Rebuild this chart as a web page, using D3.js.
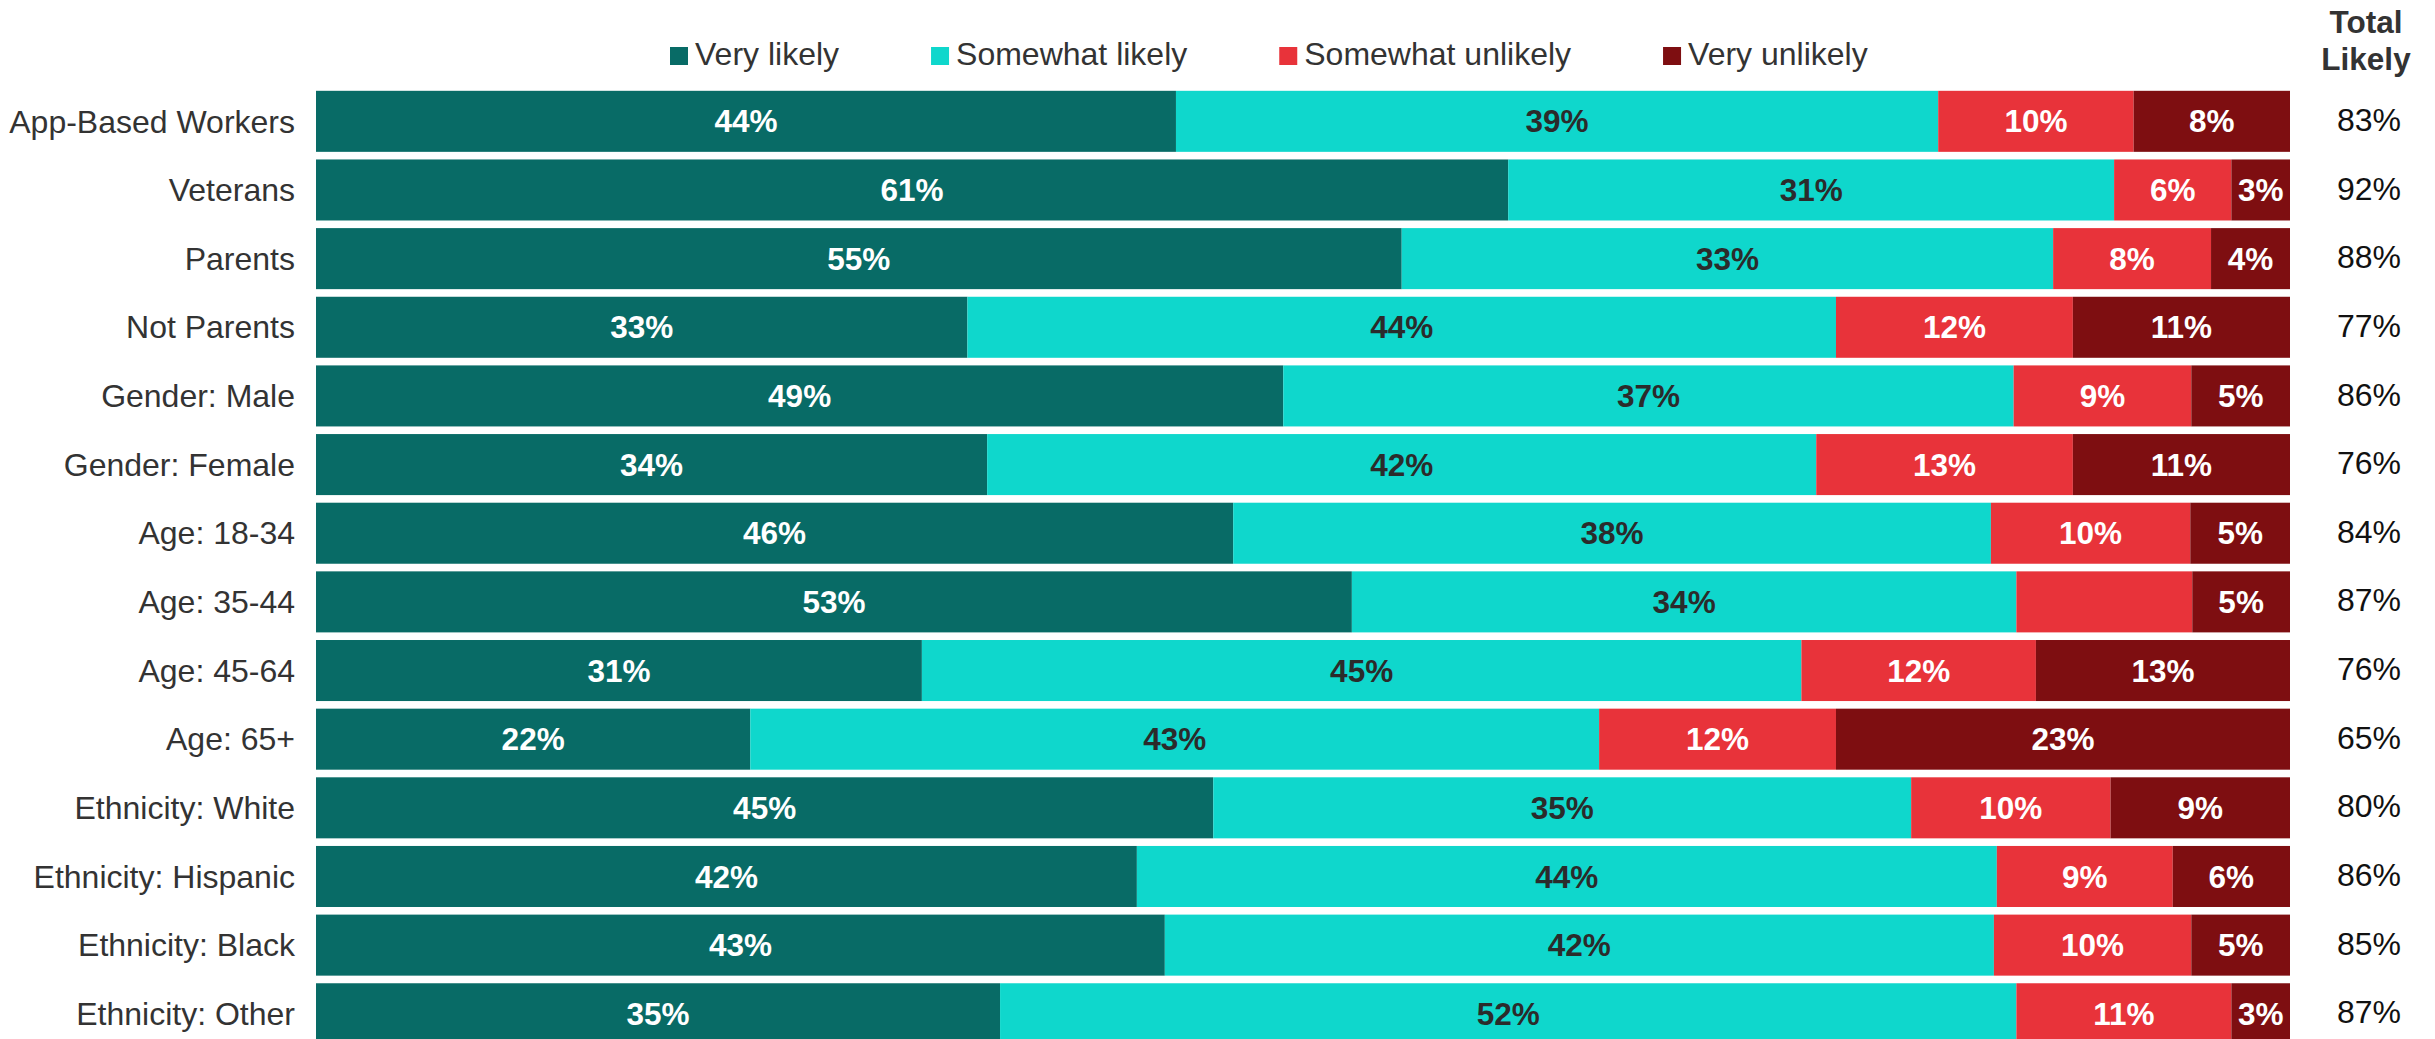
<!DOCTYPE html>
<meta charset="utf-8">
<style>
body { margin: 0; background: #fff; }
svg { display: block; font-family: "Liberation Sans", Arial, sans-serif; }
.cat { font-size: 32px; fill: #333; text-anchor: end; }
.seg-label { font-size: 31.5px; font-weight: bold; text-anchor: middle; }
.total { font-size: 32px; fill: #111; text-anchor: middle; }
.total-head { font-size: 31.5px; font-weight: bold; fill: #333; text-anchor: middle; }
.legend text { font-size: 32px; fill: #333; }
</style>
<svg width="2435" height="1039"></svg>
<script src="https://cdn.jsdelivr.net/npm/d3@7"></script>
<script>

const categories = [
  'App-Based Workers', 'Veterans', 'Parents', 'Not Parents',
  'Gender: Male', 'Gender: Female', 'Age: 18-34', 'Age: 35-44',
  'Age: 45-64', 'Age: 65+', 'Ethnicity: White', 'Ethnicity: Hispanic',
  'Ethnicity: Black', 'Ethnicity: Other'
];

const seriesNames = ['Very likely', 'Somewhat likely', 'Somewhat unlikely', 'Very unlikely'];

const veryLikely       = [44, 61, 55, 33, 49, 34, 46, 53, 31, 22, 45, 42, 43, 35];
const somewhatLikely   = [39, 31, 33, 44, 37, 42, 38, 34, 45, 43, 35, 44, 42, 52];
const somewhatUnlikely = [10,  6,  8, 12,  9, 13, 10,  9, 12, 12, 10,  9, 10, 11];
const veryUnlikely     = [ 8,  3,  4, 11,  5, 11,  5,  5, 13, 23,  9,  6,  5,  3];

const totalLikely = [83, 92, 88, 77, 86, 76, 84, 87, 76, 65, 80, 86, 85, 87];

// the reference leaves this one segment without a label
const hiddenLabels = [['Age: 35-44', 'Somewhat unlikely']];

const colors = ['#086b66', '#0fd7cc', '#e8333a', '#7e0e11'];
const labelColors = ['#fff', '#2b2b2b', '#fff', '#fff'];

const width = 2435;
const height = 1039;

const rows = categories.map((c, i) => ({
  category: c,
  'Very likely': veryLikely[i],
  'Somewhat likely': somewhatLikely[i],
  'Somewhat unlikely': somewhatUnlikely[i],
  'Very unlikely': veryUnlikely[i],
  total: totalLikely[i]
}));

const stacked = d3.stack()
  .keys(seriesNames)
  .offset(d3.stackOffsetExpand)(rows);

const x = d3.scaleLinear().domain([0, 1]).range([316, 2290]);

const step = 68.65;
const y = d3.scaleBand()
  .domain(categories)
  .range([87, 87 + step * categories.length])
  .paddingInner(0.111)
  .paddingOuter(0.0555);

const color = d3.scaleOrdinal().domain(seriesNames).range(colors);
const labelColor = d3.scaleOrdinal().domain(seriesNames).range(labelColors);

const svg = d3.select('svg')
  .attr('width', width)
  .attr('height', height);

// legend
const legend = svg.append('g').attr('class', 'legend');
let lx = 670;
seriesNames.forEach(name => {
  const g = legend.append('g').attr('transform', `translate(${lx},0)`);
  g.append('rect')
    .attr('x', 0).attr('y', 47)
    .attr('width', 18).attr('height', 18)
    .attr('fill', color(name));
  const t = g.append('text')
    .attr('x', 25).attr('y', 65)
    .text(name);
  lx += 25 + t.node().getComputedTextLength() + 92;
});

// total likely header
const totalX = 2366;
svg.append('text').attr('class', 'total-head')
  .attr('x', totalX).attr('y', 33).text('Total');
svg.append('text').attr('class', 'total-head')
  .attr('x', totalX).attr('y', 70).text('Likely');

// bars
const layer = svg.selectAll('.layer')
  .data(stacked)
  .enter().append('g')
    .attr('class', 'layer')
    .attr('fill', d => color(d.key));

layer.selectAll('rect')
  .data(d => d)
  .enter().append('rect')
    .attr('x', d => x(d[0]))
    .attr('y', d => y(d.data.category))
    .attr('width', d => x(d[1]) - x(d[0]))
    .attr('height', y.bandwidth());

const isHidden = (cat, key) => hiddenLabels.some(h => h[0] === cat && h[1] === key);

stacked.forEach(s => {
  svg.append('g').selectAll('text')
    .data(s.filter(d => !isHidden(d.data.category, s.key)))
    .enter().append('text')
      .attr('class', 'seg-label')
      .attr('fill', labelColor(s.key))
      .attr('x', d => (x(d[0]) + x(d[1])) / 2)
      .attr('y', d => y(d.data.category) + y.bandwidth() / 2)
      .attr('dy', '0.35em')
      .text(d => d.data[s.key] + '%');
});

// category labels
svg.append('g').selectAll('text')
  .data(rows)
  .enter().append('text')
    .attr('class', 'cat')
    .attr('x', 295)
    .attr('y', d => y(d.category) + y.bandwidth() / 2)
    .attr('dy', '0.35em')
    .text(d => d.category);

// total likely column
svg.append('g').selectAll('text')
  .data(rows)
  .enter().append('text')
    .attr('class', 'total')
    .attr('x', totalX + 3)
    .attr('y', d => y(d.category) + y.bandwidth() / 2)
    .attr('dy', '0.3em')
    .text(d => d.total + '%');

</script>
